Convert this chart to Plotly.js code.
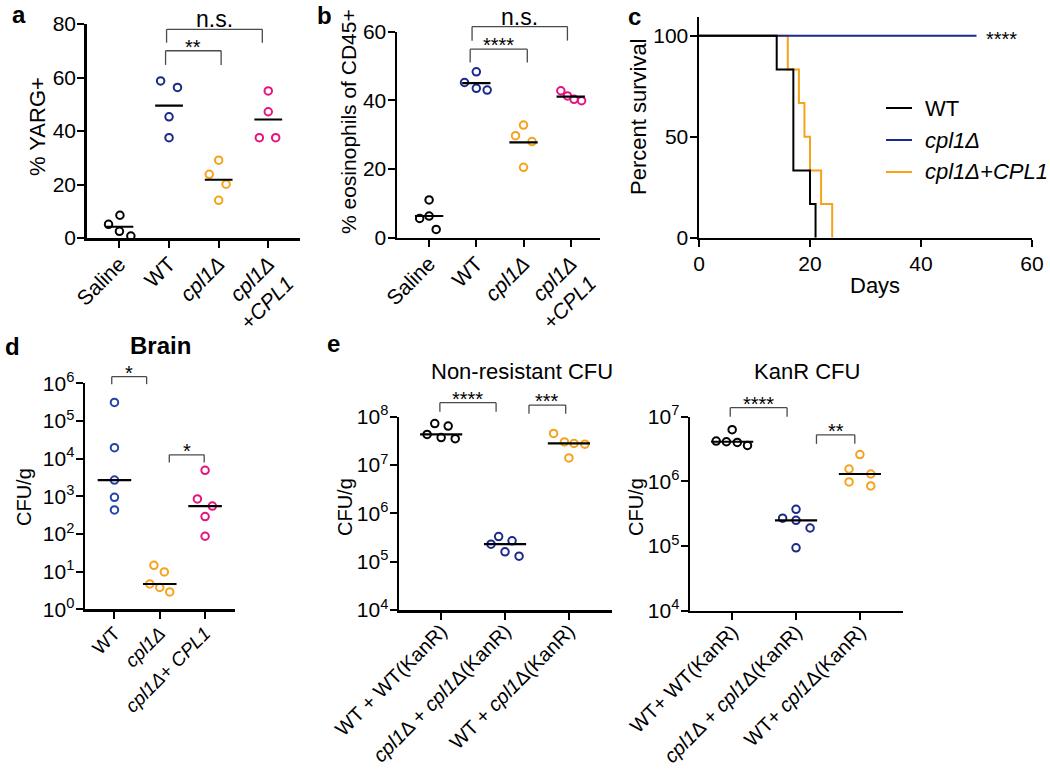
<!DOCTYPE html>
<html><head><meta charset="utf-8">
<script src="https://cdn.plot.ly/plotly-3.0.1.min.js"></script>
<style>body{margin:0;background:#fff}#chart{width:1050px;height:769px}</style>
</head><body><div id="chart"></div>
<script>
// ================= DATA =================
// panel a : % YARG+
const catsA = ['Saline', 'WT', '<i>cpl1Δ</i>', '<i>cpl1Δ</i><br>+<i>CPL1</i>'];
const yargSaline = [5.1, 8.5, 2.5, 0.75];
const yargWT = [58.7, 56.3, 45.3, 37.5];
const yargCpl1 = [29.1, 23.8, 20.1, 14.1];
const yargComp = [55.0, 47.2, 37.5, 37.5];
const ticksA = [0, 20, 40, 60, 80];

// panel b : % eosinophils of CD45+
const catsB = ['Saline', 'WT', '<i>cpl1Δ</i>', '<i>cpl1Δ</i><br>+<i>CPL1</i>'];
const eosSaline = [5.6, 6.3, 11.0, 2.4];
const eosWT = [45.2, 48.3, 43.5, 43.0];
const eosCpl1 = [32.8, 29.7, 28.0, 20.5];
const eosComp = [42.8, 41.3, 40.3, 39.9];
const ticksB = [0, 20, 40, 60];

// panel c : survival
const survWTDays = [0, 14, 17, 20, 21];
const survWTPct = [100, 83.3, 33.3, 16.7, 0];
const survCpl1Days = [0, 50];
const survCpl1Pct = [100, 100];
const survCompDays = [0, 16, 18, 19, 20, 22, 24];
const survCompPct = [100, 83.3, 66.7, 50, 33.3, 16.7, 0];
const legendC = ['WT', '<i>cpl1Δ</i>', '<i>cpl1Δ+CPL1</i>'];
const ticksCx = [0, 20, 40, 60];
const ticksCy = [0, 50, 100];

// panel d : Brain CFU/g
const catsD = ['WT', '<i>cpl1Δ</i>', '<i>cpl1Δ</i>+ <i>CPL1</i>'];
const brainWT = [3.1e5, 1.95e4, 2.7e3, 940, 435];
const brainCpl1 = [14.7, 9.8, 4.7, 3.8, 2.9];
const brainComp = [4.9e3, 850, 550, 290, 87];
const ticksD = [0, 1, 2, 3, 4, 5, 6];

// panel e : Non-resistant CFU / KanR CFU
const catsE1 = ['WT + WT(KanR)', '<i>cpl1</i>Δ + <i>cpl1</i>Δ(KanR)', 'WT + <i>cpl1</i>Δ(KanR)'];
const nonresWTWT = [7.2e7, 6.4e7, 4.3e7, 3.7e7, 3.5e7];
const nonresCpl1Cpl1 = [3.3e5, 2.7e5, 2.3e5, 1.6e5, 1.3e5];
const nonresWTCpl1 = [4.5e7, 3.0e7, 2.8e7, 2.7e7, 1.4e7];
const ticksE1 = [4, 5, 6, 7, 8];

const catsE2 = ['WT+ WT(KanR)', '<i>cpl1</i>Δ + <i>cpl1</i>Δ(KanR)', 'WT+ <i>cpl1</i>Δ(KanR)'];
const kanrWTWT = [6.3e6, 4.2e6, 4.1e6, 4.0e6, 3.6e6];
const kanrCpl1Cpl1 = [3.7e5, 2.7e5, 2.5e5, 1.9e5, 9.4e4];
const kanrWTCpl1 = [2.6e6, 1.55e6, 1.3e6, 9.8e5, 8.5e5];
const ticksE2 = [4, 5, 6, 7];

// significance labels
const sigA = ['**', 'n.s.'];
const sigB = ['****', 'n.s.'];
const sigC = '****';
const sigD = ['*', '*'];
const sigE1 = ['****', '***'];
const sigE2 = ['****', '**'];

// ================= STYLE / LAYOUT =================
const W = 1050, H = 769;
const FONT = 'Liberation Sans, Arial, Helvetica, sans-serif';
const NAVY = '#1b2a8a', ORANGE = '#f7a21b', MAGENTA = '#e6137f', BLUE = '#2343ad', BLACK = '#000000';

// panel geometry in pixels
const G = {
  a: {x: [86.7, 300], y: [238, 24], xr: [-0.66, 3.64], yr: [0, 80], log: false, xa: 'x', ya: 'y'},
  b: {x: [397, 600], y: [237.7, 31.7], xr: [-0.68, 3.62], yr: [0, 60], log: false, xa: 'x2', ya: 'y2'},
  c: {x: [699, 1032], y: [237.7, 16.7], xr: [0, 60], yr: [0, 109.4], log: false, xa: 'x3', ya: 'y3'},
  d: {x: [85, 235], y: [609.3, 383.3], xr: [-0.65, 2.66], yr: [0, 6], log: true, xa: 'x4', ya: 'y4'},
  e1: {x: [399, 611.7], y: [610, 416.7], xr: [-0.66, 2.67], yr: [4, 8], log: true, xa: 'x5', ya: 'y5'},
  e2: {x: [690, 902.7], y: [610.7, 416.7], xr: [-0.66, 2.67], yr: [4, 7], log: true, xa: 'x6', ya: 'y6'}
};
function pxX(p, v) { const g = G[p]; return g.x[0] + (v - g.xr[0]) / (g.xr[1] - g.xr[0]) * (g.x[1] - g.x[0]); }
function pxY(p, v) { const g = G[p]; const t = g.log ? Math.log10(v) : v; return g.y[0] + (t - g.yr[0]) / (g.yr[1] - g.yr[0]) * (g.y[1] - g.y[0]); }
const PX = px => px / W, PY = py => 1 - py / H;

// jitter offsets (category units) — placement only
const jitA = [[-0.22, 0.01, 0, 0.23], [-0.17, 0.17, 0, 0], [0, -0.19, 0.15, 0], [0, 0, -0.18, 0.15]];
const jitB = [[-0.2, 0, 0, 0.15], [-0.25, 0, 0, 0.23], [0, -0.17, 0.18, 0], [-0.21, -0.07, 0.07, 0.23]];
const jitD = [[0, 0, 0, 0, 0], [-0.13, 0.10, -0.22, 0, 0.22], [0, -0.17, 0.16, 0, 0]];
const jitE1 = [[-0.10, 0.11, -0.22, 0, 0.22], [-0.10, 0.11, -0.22, 0, 0.22], [-0.24, -0.07, 0.08, 0.25, 0]];
const jitE2 = [[0, -0.25, -0.09, 0.08, 0.24], [0, -0.21, 0, 0.22, 0], [0, -0.17, 0.17, -0.17, 0.17]];

const mean = a => a.reduce((s, v) => s + v, 0) / a.length;
const median = a => { const s = [...a].sort((p, q) => p - q); const m = s.length >> 1; return s.length % 2 ? s[m] : (s[m - 1] + s[m]) / 2; };

const traces = [];
function dotGroups(p, groups, jit, colors, center, hw) {
  const g = G[p];
  groups.forEach((vals, gi) => {
    traces.push({type: 'scatter', mode: 'markers', xaxis: g.xa, yaxis: g.ya,
      x: vals.map((v, i) => gi + jit[gi][i]), y: vals, cliponaxis: false,
      marker: {symbol: 'circle-open', size: 7.5, color: colors[gi], line: {width: 2, color: colors[gi]}},
      showlegend: false, hoverinfo: 'skip'});
    const c = center(vals);
    traces.push({type: 'scatter', mode: 'lines', xaxis: g.xa, yaxis: g.ya,
      x: [gi - hw, gi + hw], y: [c, c], cliponaxis: false,
      line: {color: BLACK, width: 2.2}, showlegend: false, hoverinfo: 'skip'});
  });
}
dotGroups('a', [yargSaline, yargWT, yargCpl1, yargComp], jitA, [BLACK, NAVY, ORANGE, MAGENTA], mean, 0.28);
dotGroups('b', [eosSaline, eosWT, eosCpl1, eosComp], jitB, [BLACK, NAVY, ORANGE, MAGENTA], mean, 0.3);
dotGroups('d', [brainWT, brainCpl1, brainComp], jitD, [BLUE, ORANGE, MAGENTA], median, 0.37);
dotGroups('e1', [nonresWTWT, nonresCpl1Cpl1, nonresWTCpl1], jitE1, [BLACK, NAVY, ORANGE], median, 0.33);
dotGroups('e2', [kanrWTWT, kanrCpl1Cpl1, kanrWTCpl1], jitE2, [BLACK, NAVY, ORANGE], median, 0.33);

// survival curves
[[survCompDays, survCompPct, ORANGE], [survCpl1Days, survCpl1Pct, NAVY], [survWTDays, survWTPct, BLACK]].forEach(s => {
  traces.push({type: 'scatter', mode: 'lines', xaxis: 'x3', yaxis: 'y3', x: s[0], y: s[1],
    line: {shape: 'hv', color: s[2], width: 2}, showlegend: false, hoverinfo: 'skip'});
});

// axes
function axisBase(size, standoff) {
  return {showline: true, linewidth: 2.5, linecolor: BLACK, ticks: 'outside', ticklen: 7, tickwidth: 2,
    tickcolor: BLACK, showgrid: false, zeroline: false, fixedrange: true, automargin: false,
    ticklabelstandoff: standoff,
    tickfont: {family: FONT, size: size, color: BLACK}};
}
const layout = {width: W, height: H, margin: {l: 0, r: 0, t: 0, b: 0}, paper_bgcolor: '#fff', plot_bgcolor: 'rgba(0,0,0,0)',
  font: {family: FONT, color: BLACK}, showlegend: false, shapes: [], annotations: []};
function setAxes(p, xExtra, yExtra, sx, sy, offx, offy) {
  const g = G[p];
  const xn = 'xaxis' + g.xa.slice(1), yn = 'yaxis' + g.ya.slice(1);
  layout[xn] = Object.assign(axisBase(sx, offx), {domain: [g.x[0] / W, g.x[1] / W], range: g.xr, anchor: g.ya}, xExtra);
  layout[yn] = Object.assign(axisBase(sy, offy), {domain: [1 - g.y[0] / H, 1 - g.y[1] / H], range: g.yr, anchor: g.xa}, yExtra);
}
const idx = a => a.map((_, i) => i);
const pow10 = a => a.map(p => Math.pow(10, p));
const powText = a => a.map(p => '10<sup>' + p + '</sup>');
setAxes('a', {tickvals: idx(catsA), ticktext: catsA, tickangle: -45}, {tickvals: ticksA}, 21, 21, -4, -3);
setAxes('b', {tickvals: idx(catsB), ticktext: catsB, tickangle: -45}, {tickvals: ticksB}, 21, 21, -4, -3);
setAxes('c', {tickvals: ticksCx, tickangle: 0}, {tickvals: ticksCy}, 21, 21, -1, -3);
setAxes('d', {tickvals: idx(catsD), ticktext: catsD, tickangle: -45}, {type: 'log', tickvals: pow10(ticksD), ticktext: powText(ticksD)}, 19, 21, -4, -3);
setAxes('e1', {tickvals: idx(catsE1), ticktext: catsE1, tickangle: -45}, {type: 'log', tickvals: pow10(ticksE1), ticktext: powText(ticksE1)}, 20, 21, -8, -3);
setAxes('e2', {tickvals: idx(catsE2), ticktext: catsE2, tickangle: -45}, {type: 'log', tickvals: pow10(ticksE2), ticktext: powText(ticksE2)}, 20, 21, -8, -3);

// text helper (pixel positions)
function txt(x, y, text, size, opts) {
  layout.annotations.push(Object.assign({xref: 'paper', yref: 'paper', x: PX(x), y: PY(y), text: text, showarrow: false,
    xanchor: 'center', yanchor: 'middle', font: {family: FONT, size: size, color: BLACK}}, opts || {}));
}
function line(x0, y0, x1, y1, color, width) {
  layout.shapes.push({type: 'line', xref: 'paper', yref: 'paper', x0: PX(x0), y0: PY(y0), x1: PX(x1), y1: PY(y1),
    line: {color: color, width: width}});
}
// significance brackets: [x0, x1, yTop, yLeg] in data units
function bracket(p, b, label, size, lift) {
  const X0 = pxX(p, b[0]), X1 = pxX(p, b[1]), YT = pxY(p, b[2]), YL = pxY(p, b[3]);
  const c = '#4a4a4a';
  line(X0, YL, X0, YT, c, 1.3); line(X0, YT, X1, YT, c, 1.3); line(X1, YT, X1, YL, c, 1.3);
  txt((X0 + X1) / 2, YT - lift, label, size);
}
bracket('a', [0.93, 2.05, 70, 64.7], sigA[0], 20, 4);
bracket('a', [0.95, 2.88, 78, 73], sigA[1], 23, 10);
bracket('b', [0.87, 2.08, 54.9, 51], sigB[0], 20, 4);
bracket('b', [0.91, 2.93, 61.5, 57.4], sigB[1], 23, 10);
bracket('d', [-0.06, 0.71, 1.5e6, 9.5e5], sigD[0], 20, 4);
bracket('d', [1.21, 1.98, 1.26e4, 7.9e3], sigD[1], 20, 4);
bracket('e1', [-0.02, 0.86, 1.95e8, 1.26e8], sigE1[0], 20, 4);
bracket('e1', [1.375, 1.95, 1.74e8, 1.15e8], sigE1[1], 20, 4);
bracket('e2', [-0.03, 0.86, 1.38e7, 1.0e7], sigE2[0], 20, 4);
bracket('e2', [1.32, 1.92, 5.25e6, 3.8e6], sigE2[1], 20, 4);
txt(pxX('c', 50) + 7, pxY('c', 100) + 3, sigC, 20, {xanchor: 'left'});

// panel c legend
const legColors = [BLACK, NAVY, ORANGE];
legendC.forEach((t, i) => {
  const y = 108 + i * 32;
  line(886, y, 912, y, legColors[i], 2);
  txt(923, y, t, 22, {xanchor: 'left'});
});

// axis titles
txt(38, 127, '% YARG+', 22, {textangle: -90});
txt(349, 122, '% eosinophils of CD45+', 21, {textangle: -90});
txt(639, 117, 'Percent survival', 22, {textangle: -90});
txt(875, 285, 'Days', 22);
txt(24, 497, 'CFU/g', 20, {textangle: -90});
txt(345, 507, 'CFU/g', 20, {textangle: -90});
txt(636, 507, 'CFU/g', 20, {textangle: -90});

// panel titles
txt(160, 345, '<b>Brain</b>', 24);
txt(522, 371, 'Non-resistant CFU', 22);
txt(807, 371, 'KanR CFU', 22);

// panel letters
txt(10, 14, '<b>a</b>', 24, {xanchor: 'left'});
txt(315, 16, '<b>b</b>', 24, {xanchor: 'left'});
txt(626, 17, '<b>c</b>', 24, {xanchor: 'left'});
txt(3, 346, '<b>d</b>', 24, {xanchor: 'left'});
txt(325, 343, '<b>e</b>', 24, {xanchor: 'left'});

Plotly.newPlot('chart', traces, layout, {staticPlot: true, displayModeBar: false});
</script>
</body></html>
